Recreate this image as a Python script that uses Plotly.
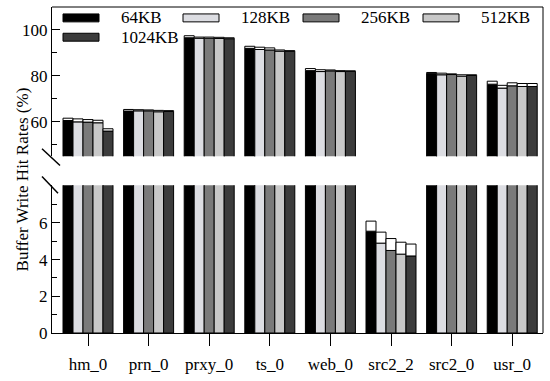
import plotly.graph_objects as go

categories = ["hm_0", "prn_0", "prxy_0", "ts_0", "web_0", "src2_2", "src2_0", "usr_0"]
sizes = ["64KB", "128KB", "256KB", "512KB", "1024KB"]

# hit rates (bar tops) and upper values (white cap tops), in %
hit_64 = [60.6, 64.7, 96.6, 92.0, 82.3, 5.55, 81.0, 76.4]
top_64 = [61.6, 65.4, 97.5, 92.9, 83.2, 6.10, 81.5, 77.7]
hit_128 = [60.0, 64.8, 96.4, 91.5, 81.9, 4.90, 80.5, 74.7]
top_128 = [61.3, 65.3, 96.9, 92.5, 82.7, 5.50, 81.2, 75.9]
hit_256 = [59.9, 64.8, 96.4, 91.3, 82.2, 4.50, 80.6, 75.7]
top_256 = [61.0, 65.2, 96.9, 92.2, 82.6, 5.15, 80.9, 77.0]
hit_512 = [59.6, 64.4, 96.3, 90.8, 81.9, 4.30, 79.9, 75.4]
top_512 = [60.7, 65.0, 96.8, 91.3, 82.3, 4.95, 80.5, 76.7]
hit_1024 = [56.0, 64.5, 96.2, 90.7, 82.0, 4.20, 80.2, 75.4]
top_1024 = [57.0, 64.9, 96.6, 91.0, 82.2, 4.85, 80.5, 76.7]

hits = [hit_64, hit_128, hit_256, hit_512, hit_1024]
tops = [top_64, top_128, top_256, top_512, top_1024]
colors = ["#000000", "#dcdde2", "#7a7a7a", "#c8c8c8", "#3c3c3c"]

low_ticks = [0, 2, 4, 6]
low_minor = [1, 3, 5, 7]
high_ticks = [60, 80, 100]
high_minor = [50, 70, 90]

W, H = 550, 381
ML, MR, MT, MB = 52, 7, 7, 45
PW = W - ML - MR
PH = H - MT - MB


def px(x):
    return (x - ML) / PW


def py(y):
    return (H - MB - y) / PH


FONT = "Liberation Serif, Times New Roman, Times, serif"
fig = go.Figure()

for i, (name, vals, caps, col) in enumerate(zip(sizes, hits, tops, colors)):
    for ya in ["y", "y2"]:
        fig.add_trace(go.Bar(
            x=categories, y=vals, name=name, yaxis=ya, xaxis="x",
            offsetgroup=str(i), marker=dict(color=col, line=dict(color="black", width=1)),
            showlegend=False, cliponaxis=True))
        fig.add_trace(go.Bar(
            x=categories, y=[c - v for c, v in zip(caps, vals)], base=vals,
            yaxis=ya, xaxis="x", offsetgroup=str(i),
            marker=dict(color="white", line=dict(color="black", width=1)),
            showlegend=False, cliponaxis=True))

axis_common = dict(showline=True, linecolor="black", linewidth=1, showgrid=False,
                   zeroline=False, ticks="inside", ticklen=8, tickcolor="black",
                   tickfont=dict(family=FONT, size=17, color="black"))

fig.update_layout(
    width=W, height=H, margin=dict(l=ML, r=MR, t=MT, b=MB),
    plot_bgcolor="white", paper_bgcolor="white",
    barmode="group", bargap=0.175, bargroupgap=0,
    font=dict(family=FONT, size=17, color="black"),
    xaxis=dict(range=[-0.594, 7.508], showline=True, linecolor="black", linewidth=1,
               ticks="outside", ticklen=12, tickcolor="black", showgrid=False,
               ticklabelstandoff=4,
               tickfont=dict(family=FONT, size=17, color="black"), anchor="y"),
    yaxis=dict(domain=[0, py(187)], range=[0, 8.05], tickvals=low_ticks,
               minor=dict(tickvals=low_minor, ticks="inside", ticklen=5, tickcolor="black"),
               anchor="x", **axis_common),
    yaxis2=dict(domain=[py(157.7), 1], range=[45, 110], tickvals=high_ticks,
                minor=dict(tickvals=high_minor, ticks="inside", ticklen=5, tickcolor="black"),
                anchor="x", **axis_common),
)

shapes = [
    dict(type="line", xref="paper", yref="paper", x0=0, x1=1, y0=1, y1=1,
         line=dict(color="black", width=1)),
    dict(type="line", xref="paper", yref="paper", x0=1, x1=1, y0=0, y1=1,
         line=dict(color="black", width=1)),
    dict(type="line", xref="paper", yref="paper", x0=px(42), x1=px(60), y0=py(150), y1=py(167),
         line=dict(color="black", width=1.5)),
    dict(type="line", xref="paper", yref="paper", x0=px(42), x1=px(58), y0=py(178), y1=py(195),
         line=dict(color="black", width=1.5)),
]

annotations = [
    dict(text="Buffer Write Hit Rates (%)", xref="paper", yref="paper",
         x=px(22), y=py(181), textangle=-90, showarrow=False,
         font=dict(family=FONT, size=17, color="black"), xanchor="center", yanchor="middle"),
]

# manual legend
for i, (name, col) in enumerate(zip(sizes, colors)):
    row = 0 if i < 4 else 1
    colx = i if i < 4 else 0
    x0 = 63 + 120 * colx
    y0 = 14 + 19.5 * row
    shapes.append(dict(type="rect", xref="paper", yref="paper",
                       x0=px(x0), x1=px(x0 + 36), y0=py(y0), y1=py(y0 + 8),
                       fillcolor=col, line=dict(color="black", width=1)))
    annotations.append(dict(text=name, xref="paper", yref="paper",
                            x=px(x0 + 56), y=py(y0 + 4), xanchor="left", yanchor="middle",
                            showarrow=False, font=dict(family=FONT, size=17, color="black")))

fig.update_layout(shapes=shapes, annotations=annotations)
fig.write_html("out.html", config={"displayModeBar": False})

# remove default page margin so the figure sits at the window origin
with open("out.html", "r", encoding="utf-8") as f:
    html = f.read()
html = html.replace("<head>", "<head><style>html,body{margin:0;padding:0;}</style>", 1)
with open("out.html", "w", encoding="utf-8") as f:
    f.write(html)
